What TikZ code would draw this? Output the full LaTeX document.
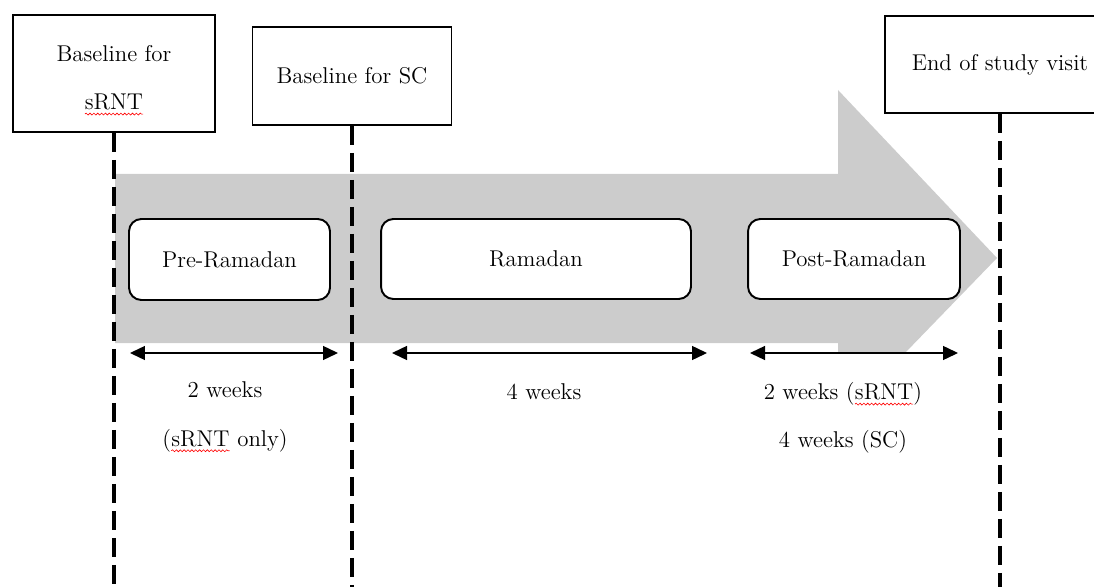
\documentclass[tikz,border=0pt]{standalone}
\usetikzlibrary{arrows.meta,positioning,decorations.pathmorphing}
\definecolor{ArrowGray}{RGB}{204,204,204}
% red spell-check squiggle under a word
\newcommand\spellwave[1]{\tikz[baseline=(w.base)]{\node[inner sep=0pt, outer sep=0pt, draw=none, fill=none,
    minimum width=0pt, minimum height=0pt, rounded corners=0pt, text height=, text depth=] (w) {#1};
  \draw[red, line width=0.35pt, decorate, decoration={snake, amplitude=0.55pt, segment length=2.2pt}]
    ([yshift=-2.6pt]w.base west) -- ([yshift=-2.6pt]w.base east);}}

\begin{document}
\begin{tikzpicture}[x=0.02cm, y=-0.02cm,
    every node/.append style={font=\fontsize{13}{27.5}\selectfont, align=center, inner sep=0pt},
    visit/.style={draw, line width=1.1pt, fill=white},
    phase/.style={draw, line width=1.1pt, fill=white, rounded corners=7pt},
    timeline/.style={line width=1.9pt, dash pattern=on 0.38cm off 0.16cm},
    span/.style={{Triangle[length=0.3cm,width=0.28cm]}-{Triangle[length=0.3cm,width=0.28cm]}, line width=0.8pt}]
  \useasboundingbox (0,0) rectangle (1094,587);
  \clip (0,0) rectangle (1094,587);
  % grey block arrow in the back
  \fill[ArrowGray] (115,174) -- (838,174) -- (838,90) -- (997,258) -- (905,353)
    -- (838,353) -- (838,343) -- (115,343) -- cycle;
  \coordinate (bottom) at (0,587);
  % visits
  \node (sRNTbase) [visit, minimum width=4.04cm, minimum height=2.34cm, text height=41pt, text depth=0pt] at (114,73.5) {Baseline for\\\spellwave{sRNT}};
  \node (SCbase) [visit, minimum width=3.98cm, minimum height=1.96cm] at (352,76) {Baseline for SC};
  \node (endvisit) [visit, minimum width=4.6cm, minimum height=1.94cm] at (1000,64.5) {End of study visit};
  \draw[timeline] (sRNTbase.south) -- (sRNTbase.south |- bottom);
  \draw[timeline] (SCbase.south) -- (SCbase.south |- bottom);
  \draw[timeline] (endvisit.south) -- (endvisit.south |- bottom);
  % phases
  \node (pre) [phase, minimum width=4.02cm, minimum height=1.62cm] at (229.5,259.5) {Pre-Ramadan};
  \node (ram) [phase, minimum width=6.2cm, minimum height=1.6cm] at (536,259) {Ramadan};
  \node (post) [phase, minimum width=4.24cm, minimum height=1.6cm] at (854,259) {Post-Ramadan};
  % durations
  \coordinate (preL) at (130,353);  \coordinate (preR) at (338,353);
  \coordinate (ramL) at (392,353);  \coordinate (ramR) at (707,353);
  \coordinate (postL) at (750,353); \coordinate (postR) at (958,353);
  \draw[span] (preL) -- (preR);
  \draw[span] (ramL) -- (ramR);
  \draw[span] (postL) -- (postR);
  \node (preDur) at (225,417) {2 weeks\\(\spellwave{sRNT} only)};
  \node (ramDur) at (544,392) {4 weeks};
  \node (postDur) at (843,418) {2 weeks (\spellwave{sRNT})\\4 weeks (SC)};
\end{tikzpicture}
\end{document}
